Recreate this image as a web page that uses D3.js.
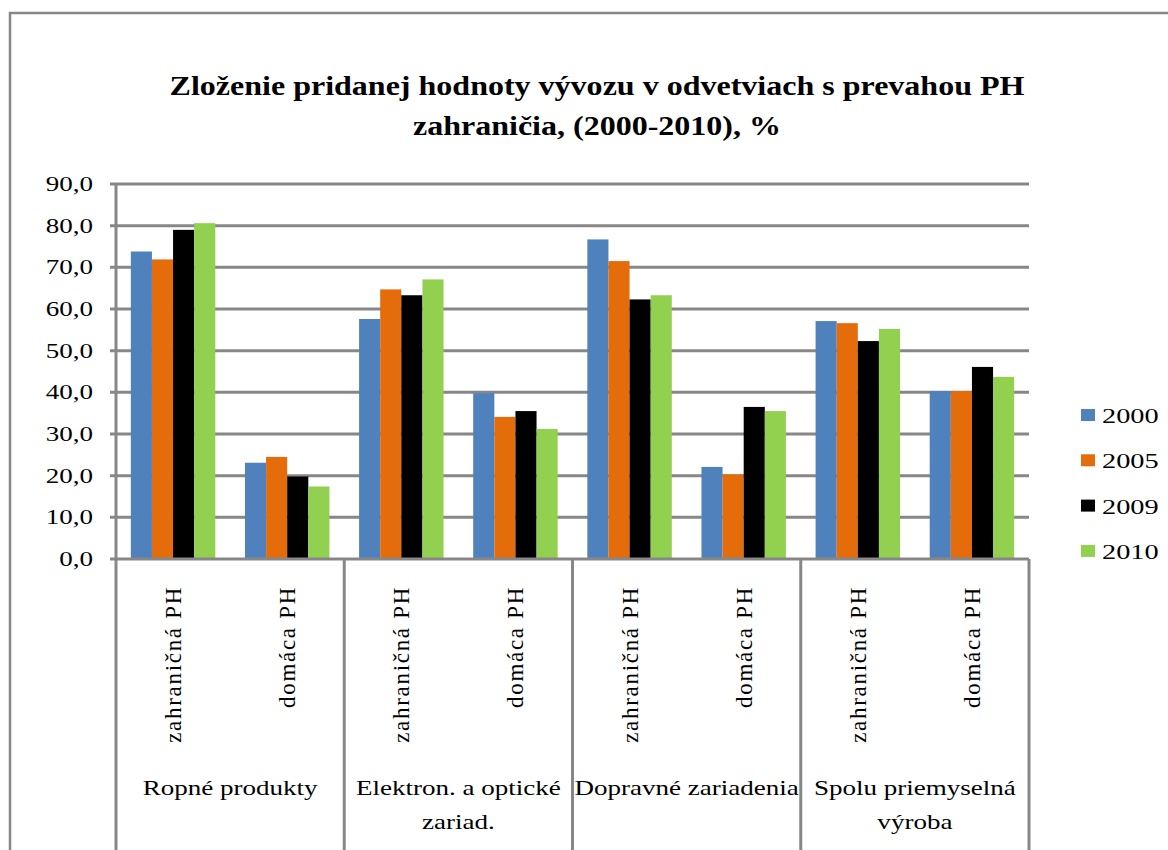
<!DOCTYPE html>
<html><head><meta charset="utf-8">
<script src="https://cdn.jsdelivr.net/npm/d3@7"></script>
<style>body{margin:0;background:#fff}svg{display:block}text{font-family:"Liberation Serif","Times New Roman","DejaVu Serif",serif}</style>
</head><body>
<script>
const groups = ["Ropné produkty", "Elektron. a optické zariad.", "Dopravné zariadenia", "Spolu priemyselná výroba"];
const groupLines = [["Ropné produkty"], ["Elektron. a optické", "zariad."], ["Dopravné zariadenia"], ["Spolu priemyselná", "výroba"]];
const subcats = ["zahraničná PH", "domáca PH"];
const years = ["2000", "2005", "2009", "2010"];
const colors = ["#4F81BD", "#E46C0A", "#000000", "#92D050"];
// values per year, ordered: [group1 zahr, group1 dom, group2 zahr, ...]
const v2000 = [73.8, 23.1, 57.6, 39.8, 76.7, 22.1, 57.1, 40.3];
const v2005 = [71.9, 24.5, 64.7, 34.1, 71.5, 20.3, 56.6, 40.3];
const v2009 = [79.0, 19.8, 63.3, 35.5, 62.3, 36.5, 52.3, 46.1];
const v2010 = [80.6, 17.4, 67.1, 31.2, 63.3, 35.5, 55.2, 43.7];
const yTicks = [0, 10, 20, 30, 40, 50, 60, 70, 80, 90];
const titleLines = ["Zloženie pridanej hodnoty vývozu v odvetviach s prevahou PH", "zahraničia, (2000-2010), %"];

const series = [v2000, v2005, v2009, v2010];
const cats = [];
groups.forEach((g, gi) => subcats.forEach((s, si) => cats.push({g: gi, s: s, i: gi * 2 + si})));

const W = 1168, H = 850;
const svg = d3.select("body").append("svg").attr("width", W).attr("height", H);
const grid = "#878787";

// measure for horizontal stretch (reference text is horizontally wide)
function measure(txt, size, weight) {
  const t = svg.append("text").attr("font-size", size).attr("font-weight", weight || "normal").text(txt);
  const w = t.node().getComputedTextLength(); t.remove(); return w;
}
const sxTitle = 855 / measure(titleLines[0], 27, "bold");
const sxReg = 175 / measure("Ropné produkty", 21);

// outer frame
svg.append("path").attr("d", `M10,${H+5} V13 H${W+5}`).attr("fill", "none").attr("stroke", grid).attr("stroke-width", 2.5);

const L = 116, R = 1029, T = 184, B = 559;
const y = d3.scaleLinear().domain([0, 90]).range([B, T]);
const x0 = d3.scaleBand().domain(cats.map(c => c.i)).range([L, R]).padding(0);
const gw = x0.bandwidth() * 0.74;
const x1 = d3.scaleBand().domain(years).range([0, gw]).padding(0);
const xg = d3.scaleBand().domain(groups).range([L, R]).padding(0);

// title
svg.append("g").selectAll("text").data(titleLines).join("text")
  .attr("transform", (d, i) => `translate(597,${95 + i * 40}) scale(${sxTitle},1)`)
  .attr("text-anchor", "middle").attr("font-weight", "bold")
  .attr("font-size", 27).text(d => d);

// gridlines
svg.append("g").selectAll("line").data(yTicks.filter(t => t > 0)).join("line")
  .attr("x1", L - 6).attr("x2", R).attr("y1", d => y(d)).attr("y2", d => y(d))
  .attr("stroke", grid).attr("stroke-width", 3);

// y labels
svg.append("g").selectAll("text").data(yTicks).join("text")
  .attr("transform", d => `translate(93,${y(d) + 7}) scale(${sxReg},1)`).attr("text-anchor", "end")
  .attr("font-size", 21).text(d => d3.format(".1f")(d).replace(".", ","));

// bars
series.forEach((vals, si) => {
  svg.append("g").selectAll("rect").data(cats).join("rect")
    .attr("x", c => x0(c.i) + (x0.bandwidth() - gw) / 2 + x1(years[si]))
    .attr("width", x1.bandwidth())
    .attr("y", c => y(vals[c.i]))
    .attr("height", c => y(0) - y(vals[c.i]))
    .attr("fill", colors[si]);
});

// axes lines
svg.append("line").attr("x1", L).attr("x2", L).attr("y1", T).attr("y2", B).attr("stroke", grid).attr("stroke-width", 3);
svg.append("line").attr("x1", L - 6).attr("x2", R).attr("y1", B).attr("y2", B).attr("stroke", grid).attr("stroke-width", 3);
// group separators
const seps = groups.map(g => xg(g)).concat([R]);
svg.append("g").selectAll("line").data(seps).join("line")
  .attr("x1", d => d).attr("x2", d => d).attr("y1", B).attr("y2", H + 5)
  .attr("stroke", grid).attr("stroke-width", 3);

// subcategory labels (rotated)
svg.append("g").selectAll("text").data(cats).join("text")
  .attr("transform", c => `translate(${x0(c.i) + x0.bandwidth() / 2 + 8},586) rotate(-90)`)
  .attr("text-anchor", "end").attr("font-size", 23)
  .attr("letter-spacing", 1.7).text(c => c.s);

// group labels
groupLines.forEach((lines, gi) => {
  svg.append("g").selectAll("text").data(lines).join("text")
    .attr("transform", (d, i) => `translate(${xg(groups[gi]) + xg.bandwidth() / 2},${795 + i * 34}) scale(${sxReg},1)`)
    .attr("text-anchor", "middle").attr("font-size", 21).text(d => d);
});

// legend
const lg = svg.append("g").selectAll("g").data(years).join("g")
  .attr("transform", (d, i) => `translate(1081,${415 + i * 45.3})`);
lg.append("rect").attr("x", 0).attr("y", -6).attr("width", 14).attr("height", 12).attr("fill", (d, i) => colors[i]);
lg.append("text").attr("transform", `translate(21,8) scale(${sxReg},1)`).attr("font-size", 22).text(d => d);
</script>
</body></html>
